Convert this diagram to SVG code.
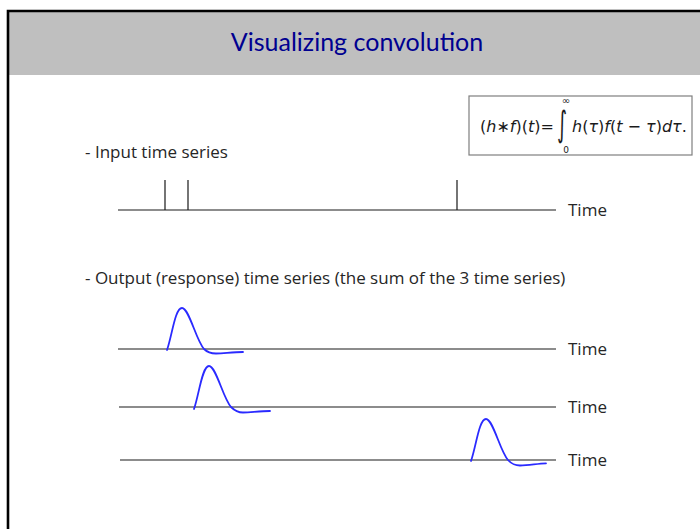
<svg xmlns="http://www.w3.org/2000/svg" width="700" height="529" viewBox="0 0 700 529">
<style>
.t{font-family:"Open Sans","Liberation Sans",sans-serif;font-size:17px;fill:#262626}
.ax{stroke:#1a1a1a;stroke-width:1.2;fill:none}
.resp{stroke:#2a2aff;stroke-width:1.8;fill:none;stroke-linecap:round;stroke-linejoin:round}
.m{font-family:"DejaVu Sans","Liberation Sans",sans-serif;font-size:16px;fill:#1a1a1a}
.i{font-style:italic}
</style>
<rect x="0" y="0" width="700" height="529" fill="#fff"/>
<rect id="header" x="8" y="12" width="692" height="63" fill="#bfbfbf"/>
<path d="M8 529 V11 H700" fill="none" stroke="#000" stroke-width="2.6"/>
<text id="title" x="357" y="51" text-anchor="middle" font-family="Lato,'Open Sans','Liberation Sans',sans-serif" font-size="25" fill="#000090">Visualizing convolution</text>

<g id="formula">
<rect x="469" y="96" width="223" height="59" fill="#fff" stroke="#7f7f7f" stroke-width="1.2"/>
<text class="m" x="480" y="132"><tspan>(</tspan><tspan class="i">h</tspan><tspan>∗</tspan><tspan class="i">f</tspan><tspan>)(</tspan><tspan class="i">t</tspan><tspan>)=</tspan></text>
<text transform="translate(557,136) scale(1,1.85)" font-family="'DejaVu Sans',sans-serif" font-size="19" fill="#1a1a1a">∫</text>
<text x="566" y="104" text-anchor="middle" font-family="'DejaVu Sans',sans-serif" font-size="10" fill="#1a1a1a">∞</text>
<text x="566" y="153" text-anchor="middle" font-family="'DejaVu Sans',sans-serif" font-size="9" fill="#1a1a1a">0</text>
<text class="m" x="572" y="132"><tspan class="i">h</tspan><tspan>(</tspan><tspan class="i">τ</tspan><tspan>)</tspan><tspan class="i">f</tspan><tspan>(</tspan><tspan class="i">t</tspan><tspan> − </tspan><tspan class="i">τ</tspan><tspan>)</tspan><tspan class="i">dτ</tspan><tspan>.</tspan></text>
</g>

<text id="label-input" class="t" x="85" y="158">- Input time series</text>
<g id="input-series">
<path class="ax" d="M118 210 H556 M165 180 V210 M188 180 V210 M457 180 V210"/>
<text class="t" x="568" y="216">Time</text>
</g>

<text id="label-output" class="t" x="85" y="284">- Output (response) time series (the sum of the 3 time series)</text>

<g id="output-1">
<path class="ax" d="M118 349 H556"/>
<path class="resp" d="M167 350 C172 336 175 308 182 308 C189 308 196 340 204 349 C208 353 212 353.5 216 353.5 C226 353 234 352.2 243 352"/>
<text class="t" x="568" y="355">Time</text>
</g>

<g id="output-2">
<path class="ax" d="M119 407 H556"/>
<path class="resp" d="M194 409 C199 395 202 366 209 366 C216 366 223 398 231 407 C235 411 239 412.5 243 412.5 C253 412 261 411.2 270 411"/>
<text class="t" x="568" y="413">Time</text>
</g>

<g id="output-3">
<path class="ax" d="M120 460 H556"/>
<path class="resp" d="M471 461 C476 447 479 419 486 419 C493 419 500 451 508 460 C512 464.5 516 465.5 520 465.5 C530 465 538 463.6 546 463.3"/>
<text class="t" x="568" y="466">Time</text>
</g>
</svg>
